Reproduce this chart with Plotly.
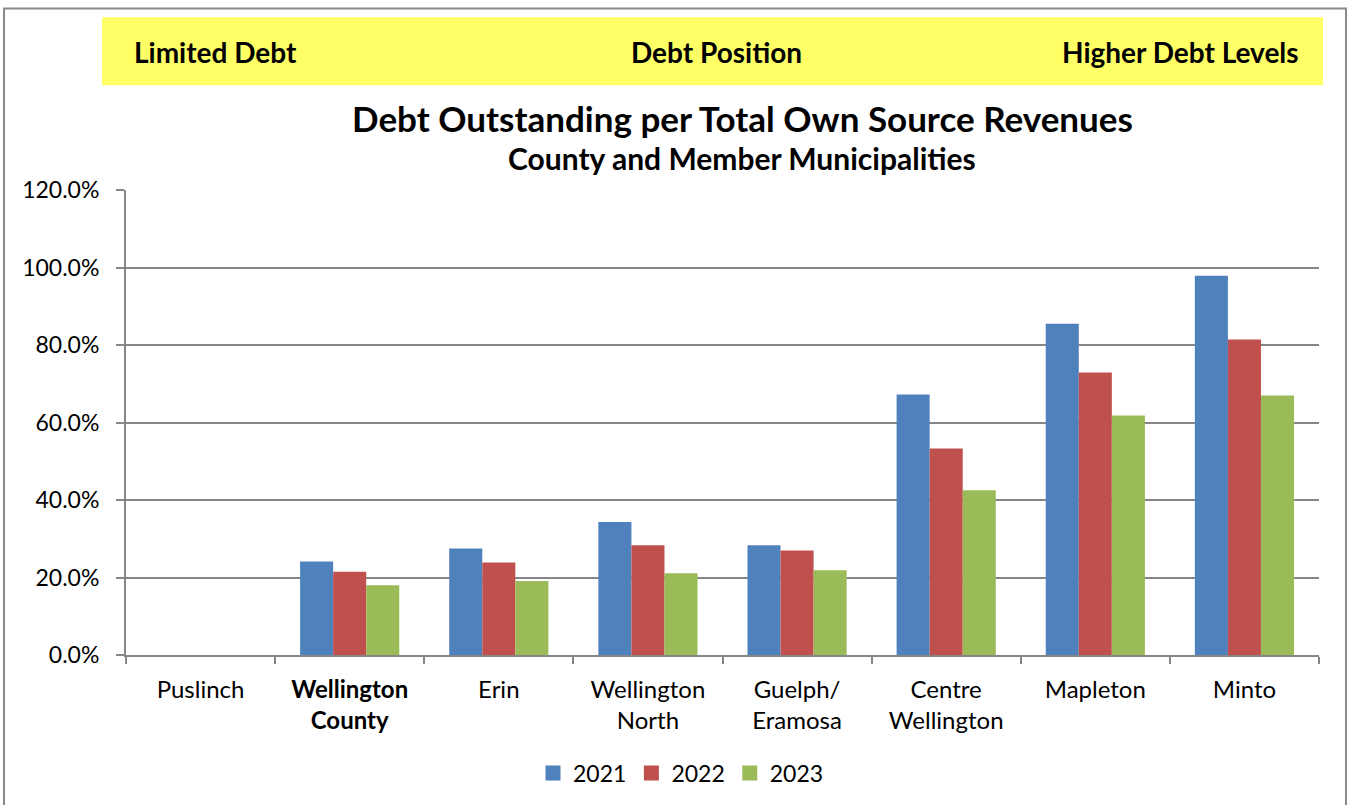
import plotly.graph_objects as go

categories = ["Puslinch", "<b>Wellington<br>County</b>", "Erin", "Wellington<br>North",
              "Guelph/<br>Eramosa", "Centre<br>Wellington", "Mapleton", "Minto"]
years = ["2021", "2022", "2023"]
v2021 = [None, 0.241, 0.275, 0.343, 0.283, 0.672, 0.855, 0.979]
v2022 = [None, 0.215, 0.239, 0.283, 0.270, 0.533, 0.729, 0.814]
v2023 = [None, 0.180, 0.191, 0.211, 0.219, 0.425, 0.618, 0.670]
colors = ["#4F81BD", "#C0504D", "#9BBB59"]
band_labels = ["Limited Debt", "Debt Position", "Higher Debt Levels"]
title = "Debt Outstanding per Total Own Source Revenues"
subtitle = "County and Member Municipalities"

W, H = 1352, 805
L, R, T, B = 126, 1319, 190, 656
FONT = "Lato"

def px(x):
    return (x - L) / (R - L)

def py(y):
    return (B - y) / (B - T)

fig = go.Figure()
for name, vals, c in zip(years, [v2021, v2022, v2023], colors):
    fig.add_trace(go.Bar(name=name, x=categories, y=vals, marker_color=c,
                         marker_line_width=0, showlegend=False, legendgroup=name))
    # legend entry with a larger square swatch
    fig.add_trace(go.Scatter(name=name, x=[categories[0]], y=[None], mode="markers",
                             marker=dict(symbol="square", size=15, color=c),
                             legendgroup=name, showlegend=True, hoverinfo="skip"))

fig.update_layout(
    width=W, height=H,
    margin=dict(l=L, r=W - R, t=T, b=H - B, pad=0),
    paper_bgcolor="white", plot_bgcolor="white",
    barmode="group", bargap=0.335, bargroupgap=0,
    font=dict(family=FONT, size=23, color="black"),
    showlegend=True,
    legend=dict(orientation="h", x=px(681), xanchor="center", y=py(773), yanchor="middle",
                font=dict(size=23, family=FONT), traceorder="normal",
                itemwidth=30, bgcolor="rgba(0,0,0,0)", tracegroupgap=0),
    xaxis=dict(showline=True, linecolor="#868686", linewidth=2, ticks="outside",
               tickson="boundaries", ticklen=7, tickcolor="#868686", tickwidth=2,
               showgrid=False, tickfont=dict(size=24, family=FONT), ticklabelstandoff=12),
    yaxis=dict(range=[0, 1.2], dtick=0.2, tickformat=".1%", showline=True,
               linecolor="#868686", linewidth=2, ticks="outside", ticklen=8,
               tickcolor="#868686", tickwidth=2, showgrid=True, gridcolor="#868686",
               gridwidth=2, zeroline=False, tickfont=dict(size=23, family=FONT),
               ticklabelstandoff=12),
)

# outer frame
fig.add_shape(type="rect", xref="paper", yref="paper", x0=px(4), x1=px(1346),
              y0=py(840), y1=py(8), line=dict(color="#8A8A8A", width=2), layer="below")
# yellow band
fig.add_shape(type="rect", xref="paper", yref="paper", x0=px(102), x1=px(1323),
              y0=py(85), y1=py(17), fillcolor="#FFFF66", line=dict(width=0), layer="below")

fig.add_annotation(xref="paper", yref="paper", x=px(132), y=py(52), xanchor="left",
                   yanchor="middle", text="<b>" + band_labels[0] + "</b>", showarrow=False,
                   font=dict(size=28, family=FONT))
fig.add_annotation(xref="paper", yref="paper", x=px(716), y=py(52), xanchor="center",
                   yanchor="middle", text="<b>" + band_labels[1] + "</b>", showarrow=False,
                   font=dict(size=28, family=FONT))
fig.add_annotation(xref="paper", yref="paper", x=px(1301), y=py(52), xanchor="right",
                   yanchor="middle", text="<b>" + band_labels[2] + "</b>", showarrow=False,
                   font=dict(size=28, family=FONT))
fig.add_annotation(xref="paper", yref="paper", x=px(742), y=py(118), xanchor="center",
                   yanchor="middle", text="<b>" + title + "</b>", showarrow=False,
                   font=dict(size=35, family=FONT))
fig.add_annotation(xref="paper", yref="paper", x=px(742), y=py(158), xanchor="center",
                   yanchor="middle", text="<b>" + subtitle + "</b>", showarrow=False,
                   font=dict(size=30, family=FONT))

fig.write_html("out.html", config={"displayModeBar": False},
               post_script="document.body.style.margin='0';document.body.style.overflow='hidden';")
